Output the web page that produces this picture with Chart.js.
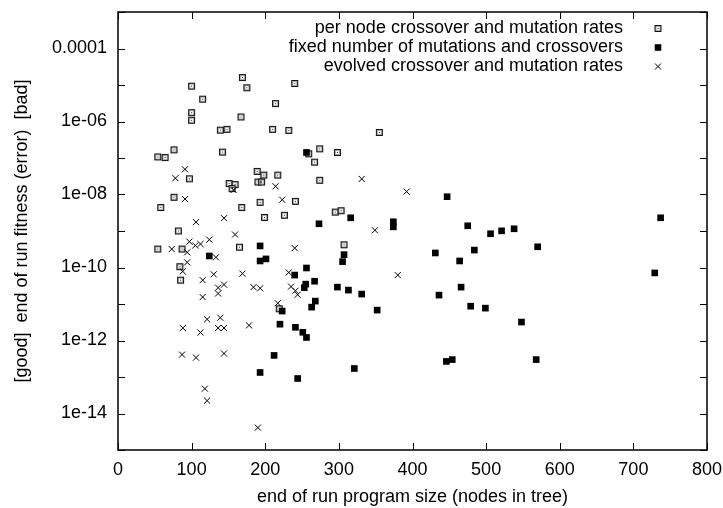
<!DOCTYPE html>
<html>
<head>
<meta charset="utf-8">
<script src="https://cdn.jsdelivr.net/npm/chart.js@4.4.0/dist/chart.umd.min.js"></script>
<style>
  html, body { margin: 0; padding: 0; background: #fff; }
</style>
</head>
<body>
<canvas id="fitChart" width="723" height="508"></canvas>
<script>
// per node crossover and mutation rates
const perNodeX = [169, 175, 100, 115, 100, 100, 167, 139, 148, 76, 54, 64, 142, 189, 190, 195, 198, 217, 97, 151,
                  159, 155, 76, 58, 168, 193, 240, 214, 210, 232, 355, 259, 274, 298, 267, 274, 241, 199, 226, 295,
                  303, 82, 54, 87, 165, 84, 85, 307, 219];
const perNodeY = [1.6e-5, 8.4e-6, 9.3e-6, 4.1e-6, 1.75e-6, 1.08e-6, 1.33e-6, 5.8e-7, 6.1e-7, 1.67e-7,
                  1.07e-7, 1.03e-7, 1.45e-7, 4.3e-8, 2.2e-8, 2.2e-8, 3.4e-8, 3.4e-8, 2.7e-8, 2.0e-8,
                  1.87e-8, 1.45e-8, 8.4e-9, 4.4e-9, 4.4e-9, 6.1e-9, 1.1e-5, 3.1e-6, 6.1e-7, 5.7e-7,
                  5.0e-7, 1.3e-7, 1.78e-7, 1.42e-7, 7.7e-8, 2.45e-8, 6.5e-9, 2.35e-9, 2.7e-9, 3.3e-9,
                  3.6e-9, 1.0e-9, 3.2e-10, 3.2e-10, 3.6e-10, 1.05e-10, 4.5e-11, 4.2e-10, 7.4e-12];

// fixed number of mutations and crossovers
const fixedX = [256, 193, 124, 193, 201, 316, 273, 374, 374, 307, 305, 256, 240, 267, 255, 253, 298, 313, 331, 268,
                263, 352, 223, 220, 241, 251, 256, 212, 193, 244, 321, 446, 454, 568, 447, 475, 506, 521, 538, 570,
                431, 484, 464, 466, 436, 479, 499, 548, 737, 729];
const fixedY = [1.42e-7, 3.9e-10, 2.07e-10, 1.51e-10, 1.72e-10, 2.3e-9, 1.58e-9, 1.79e-9, 1.3e-9, 2.25e-10,
                1.45e-10, 9.7e-11, 6.2e-11, 4.2e-11, 3.5e-11, 2.8e-11, 2.9e-11, 2.4e-11, 1.87e-11, 1.2e-11,
                8.2e-12, 6.8e-12, 6.4e-12, 2.8e-12, 2.3e-12, 1.68e-12, 1.21e-12, 3.9e-13, 1.33e-13, 9.1e-14,
                1.71e-13, 2.67e-13, 3.0e-13, 3.0e-13, 8.7e-9, 1.39e-9, 8.4e-10, 1.01e-9, 1.15e-9, 3.7e-10,
                2.5e-10, 3.0e-10, 1.51e-10, 2.9e-11, 1.75e-11, 8.7e-12, 7.7e-12, 3.2e-12, 2.3e-9, 7.1e-11];

// evolved crossover and mutation rates
const evolvedX = [91, 78, 91, 157, 214, 331, 392, 223, 106, 144, 159, 97, 105, 112, 124, 73, 94, 133, 94, 88,
                  115, 130, 169, 144, 136, 136, 184, 193, 115, 121, 139, 88, 112, 136, 144, 178, 349, 240, 232, 235,
                  241, 244, 217, 87, 106, 144, 118, 121, 190, 380];
const evolvedY = [4.9e-8, 2.8e-8, 7.5e-9, 1.33e-8, 1.68e-8, 2.67e-8, 1.2e-8, 7.2e-9, 1.75e-9, 2.25e-9,
                  8.0e-10, 5.1e-10, 4.0e-10, 4.4e-10, 5.8e-10, 3.2e-10, 2.6e-10, 1.9e-10, 1.38e-10, 7.8e-11,
                  4.5e-11, 6.5e-11, 6.8e-11, 3.4e-11, 2.8e-11, 1.94e-11, 2.9e-11, 2.7e-11, 1.55e-11, 3.8e-12,
                  4.2e-12, 2.2e-12, 1.66e-12, 2.2e-12, 2.2e-12, 2.6e-12, 1.05e-9, 3.4e-10, 7.3e-11, 3.0e-11,
                  2.3e-11, 1.79e-11, 1.05e-11, 4.1e-13, 3.4e-13, 4.4e-13, 4.8e-14, 2.25e-14, 4.1e-15, 6.2e-11];

const seriesLabels = ['per node crossover and mutation rates',
                      'fixed number of mutations and crossovers',
                      'evolved crossover and mutation rates'];

const xTicks = [0, 100, 200, 300, 400, 500, 600, 700, 800];
const yDecades = [-15, -14, -13, -12, -11, -10, -9, -8, -7, -6, -5, -4, -3];
const yLabelDecades = [-14, -12, -10, -8, -6, -4];

const FONT = '"Liberation Sans", Arial, Helvetica, sans-serif';

function toPoints(xs, ys) {
    return xs.map((x, i) => ({ x: x, y: ys[i] }));
}

// gnuplot style label: 0.0001, 1e-06 ...
function decadeLabel(e) {
    if (e >= -4) return String(Math.pow(10, e).toFixed(-e));
    return '1e-' + String(-e).padStart(2, '0');
}

// open square with a dot in the middle
function makeBoxDot() {
    const c = document.createElement('canvas');
    c.width = 9; c.height = 9;
    const g = c.getContext('2d');
    g.strokeStyle = '#111';
    g.lineWidth = 1;
    g.strokeRect(1.5, 1.5, 6, 6);
    g.strokeStyle = '#aaa';
    g.strokeRect(2.5, 2.5, 4, 4);
    g.fillStyle = '#222';
    g.fillRect(4, 4, 1, 1);
    return c;
}
const boxDot = makeBoxDot();

// labels may hang over the frame, as in gnuplot; don't let them shrink the plot
function noOverflow(scale) {
    scale.paddingTop = 0;
    scale.paddingBottom = 0;
    scale.paddingLeft = 0;
    scale.paddingRight = 0;
}

const framePlugin = {
    id: 'gnuplotFrame',
    beforeDatasetsDraw(chart) {
        const { ctx, chartArea: a, scales } = chart;
        ctx.save();
        ctx.strokeStyle = '#000';
        ctx.lineWidth = 1;
        ctx.beginPath();
        xTicks.forEach(v => {
            const px = Math.round(scales.x.getPixelForValue(v)) + 0.5;
            ctx.moveTo(px, a.bottom); ctx.lineTo(px, a.bottom - 7);
            ctx.moveTo(px, a.top); ctx.lineTo(px, a.top + 7);
        });
        yDecades.forEach(e => {
            const py = Math.round(scales.y.getPixelForValue(Math.pow(10, e))) + 0.5;
            ctx.moveTo(a.left, py); ctx.lineTo(a.left + 7, py);
            ctx.moveTo(a.right, py); ctx.lineTo(a.right - 7, py);
        });
        ctx.stroke();
        ctx.lineWidth = 1.5;
        ctx.strokeRect(Math.round(a.left), Math.round(a.top), Math.round(a.right - a.left), Math.round(a.bottom - a.top));
        ctx.restore();
    },
    afterDraw(chart) {
        // key in the top right corner, text left of the sample
        const ctx = chart.ctx;
        const rows = [28.5, 47.5, 66.5];
        const textRight = 623;
        const sx = 658;
        ctx.save();
        ctx.font = '18px ' + FONT;
        ctx.fillStyle = '#000';
        ctx.textAlign = 'right';
        ctx.textBaseline = 'middle';
        seriesLabels.forEach((t, i) => ctx.fillText(t, textRight, rows[i]));
        ctx.drawImage(boxDot, sx - 4.5, rows[0] - 4.5);
        ctx.fillRect(sx - 3.3, rows[1] - 3.3, 6.6, 6.6);
        ctx.lineWidth = 1;
        ctx.strokeStyle = '#000';
        ctx.beginPath();
        ctx.moveTo(sx - 3, rows[2] - 3); ctx.lineTo(sx + 3, rows[2] + 3);
        ctx.moveTo(sx + 3, rows[2] - 3); ctx.lineTo(sx - 3, rows[2] + 3);
        ctx.stroke();
        ctx.restore();
    }
};

Chart.defaults.font.family = FONT;
Chart.defaults.font.size = 18;
Chart.defaults.color = '#000';

new Chart(document.getElementById('fitChart').getContext('2d'), {
    type: 'scatter',
    data: {
        datasets: [
            {
                label: seriesLabels[0],
                data: toPoints(perNodeX, perNodeY),
                pointStyle: boxDot,
                order: 3
            },
            {
                label: seriesLabels[1],
                data: toPoints(fixedX, fixedY),
                pointStyle: 'rect',
                pointRadius: 4.7,
                backgroundColor: '#000',
                borderWidth: 0,
                order: 2
            },
            {
                label: seriesLabels[2],
                data: toPoints(evolvedX, evolvedY),
                pointStyle: 'crossRot',
                pointRadius: 4.3,
                borderColor: '#000',
                borderWidth: 1,
                order: 1
            }
        ]
    },
    options: {
        responsive: false,
        animation: false,
        layout: { padding: { left: 0, top: 12, right: 16, bottom: 0 } },
        plugins: {
            legend: { display: false },
            tooltip: { enabled: false }
        },
        scales: {
            x: {
                type: 'linear',
                min: 0,
                max: 800,
                grid: { display: false, drawTicks: false },
                border: { display: false },
                ticks: { stepSize: 100, padding: 9, maxRotation: 0 },
                title: {
                    display: true,
                    text: 'end of run program size (nodes in tree)',
                    padding: { top: 0, bottom: 0 }
                },
                afterFit: scale => { scale.height = 58; noOverflow(scale); }
            },
            y: {
                type: 'logarithmic',
                min: 1e-15,
                max: 1e-3,
                grid: { display: false, drawTicks: false },
                border: { display: false },
                afterBuildTicks: scale => {
                    scale.ticks = yDecades.map(e => ({ value: Math.pow(10, e) }));
                },
                ticks: {
                    autoSkip: false,
                    padding: 11,
                    callback: value => {
                        const e = Math.round(Math.log10(value));
                        return yLabelDecades.includes(e) ? decadeLabel(e) : '';
                    }
                },
                title: {
                    display: true,
                    text: '[good]  end of run fitness (error)  [bad]',
                    padding: { top: 11, bottom: 0 }
                },
                afterFit: scale => { scale.width = 118; noOverflow(scale); }
            }
        }
    },
    plugins: [framePlugin]
});
</script>
</body>
</html>
